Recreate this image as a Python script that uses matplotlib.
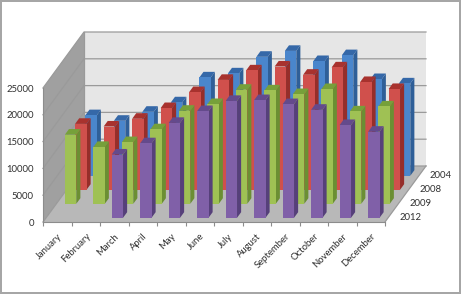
import matplotlib
matplotlib.use("Agg")
import matplotlib.pyplot as plt
from matplotlib.patches import Polygon
import numpy as np

months = ["January", "February", "March", "April", "May", "June", "July",
          "August", "September", "October", "November", "December"]
years = ["2012", "2009", "2008", "2004"]
v2012 = [np.nan, np.nan, 11800, 13900, 17700, 19900, 21800, 21950, 21200, 20150, 17300, 16050]
v2009 = [12900, 10600, 11500, 13900, 17350, 18600, 21270, 21150, 20460, 21400, 17230, 18160]
v2008 = [12300, 11800, 13250, 15240, 18220, 20500, 22270, 23000, 21460, 22830, 20100, 18800]
v2004 = [11300, 10260, 11940, 13700, 18350, 19100, 22200, 23300, 21400, 22500, 18040, 17230]
series = [v2012, v2009, v2008, v2004]
yticks = [0, 5000, 10000, 15000, 20000, 25000]
front = ["#8060A8", "#9FC154", "#D0504C", "#4A86CC"]
side = ["#56407A", "#6B8F33", "#962E2A", "#2F5F98"]
top = ["#644A8C", "#76A03A", "#A8322E", "#3568A8"]

plt.rcParams["font.family"] = ["Lato", "DejaVu Sans"]
W, H = 461, 294
fig = plt.figure(figsize=(W / 100, H / 100), dpi=100)
x0, y0, xw, yh = 43, 222, 342, 134
ax = fig.add_axes([x0 / W, 1 - y0 / H, xw / W, yh / H])
ax.set_xlim(0, 12)
ax.set_ylim(0, 25000)
ax.patch.set_visible(False)

DX = 10.25 / (xw / 12)     # one depth slot, in category units
DY = 14.0 / (yh / 25000)   # one depth slot, in value units
BW, BD, GAP = 0.4, 0.4, 0.3
FS = 6.8
TXT = "#303030"


def P(x, v, d):
    return (x + d * DX, v + d * DY)


def poly(pts, fc, ec="none", z=1, lw=0.0):
    ax.add_patch(Polygon(pts, closed=True, fc=fc, ec=ec, lw=lw, zorder=z, clip_on=False))


# walls and floor
poly([P(0, 0, 0), P(12, 0, 0), P(12, 0, 4), P(0, 0, 4)], "#B8B8B8", z=1)
poly([P(0, 0, 0), P(0, 25000, 0), P(0, 25000, 4), P(0, 0, 4)], "#A0A0A0", z=1)
poly([P(0, 0, 4), P(12, 0, 4), P(12, 25000, 4), P(0, 25000, 4)], "#E6E6E6", z=1)
for t in yticks:
    a, b, c = P(0, t, 0), P(0, t, 4), P(12, t, 4)
    ax.plot([a[0], b[0], c[0]], [a[1], b[1], c[1]], color="#9A9A9A", lw=0.9, zorder=2, clip_on=False)
a, b = P(0, 0, 4), P(0, 25000, 4)
ax.plot([a[0], b[0]], [a[1], b[1]], color="#9A9A9A", lw=0.9, zorder=2, clip_on=False)
a, b = P(12, 0, 0), P(12, 0, 4)
ax.plot([a[0], b[0]], [a[1], b[1]], color="#9A9A9A", lw=0.9, zorder=2, clip_on=False)

# bars, rear series first
z = 3
for s in range(3, -1, -1):
    for i, v in enumerate(series[s]):
        if np.isnan(v):
            continue
        xl, xr = i + 0.5 - BW / 2, i + 0.5 + BW / 2
        d1, d2 = s + GAP, s + GAP + BD
        poly([P(xr, 0, d1), P(xr, 0, d2), P(xr, v, d2), P(xr, v, d1)], side[s], z=z)
        poly([P(xl, v, d1), P(xr, v, d1), P(xr, v, d2), P(xl, v, d2)], top[s], z=z)
        sx, sy = P(0, 0, d1)
        ax.bar(i + 0.5 + sx, v, width=BW, bottom=sy, color=front[s], zorder=z + 0.1, clip_on=False)
    z += 1

# axes furniture
for sp in ("top", "right"):
    ax.spines[sp].set_visible(False)
for sp in ("left", "bottom"):
    ax.spines[sp].set_color("#8C8C8C")
    ax.spines[sp].set_linewidth(0.8)
    ax.spines[sp].set_zorder(2)
ax.set_yticks(yticks)
ax.set_yticklabels([str(t) for t in yticks], fontsize=FS, color=TXT)
ax.tick_params(axis="y", length=0, pad=6.5)
ax.set_xticks(range(13))
ax.set_xticklabels([])
ax.tick_params(axis="x", which="major", length=3, color="#8C8C8C", width=0.8)
ax.set_xticks(np.arange(12) + 0.5, minor=True)
ax.set_xticklabels(months, minor=True, rotation=45, ha="right", va="top",
                   rotation_mode="anchor", fontsize=FS, color=TXT)
ax.tick_params(axis="x", which="minor", length=0, pad=7)
for s, y in enumerate(years):
    px, pv = P(12, 0, s + 0.5)
    ax.annotate(y, (px, pv), xytext=(9, -3), textcoords="offset pixels", fontsize=FS,
                color=TXT, ha="left", va="center", annotation_clip=False, zorder=20)

# picture frame
fig.patch.set_edgecolor("#A6A6A6")
fig.patch.set_linewidth(1.6)
fig.savefig("out.png", dpi=100, edgecolor=fig.get_edgecolor())
